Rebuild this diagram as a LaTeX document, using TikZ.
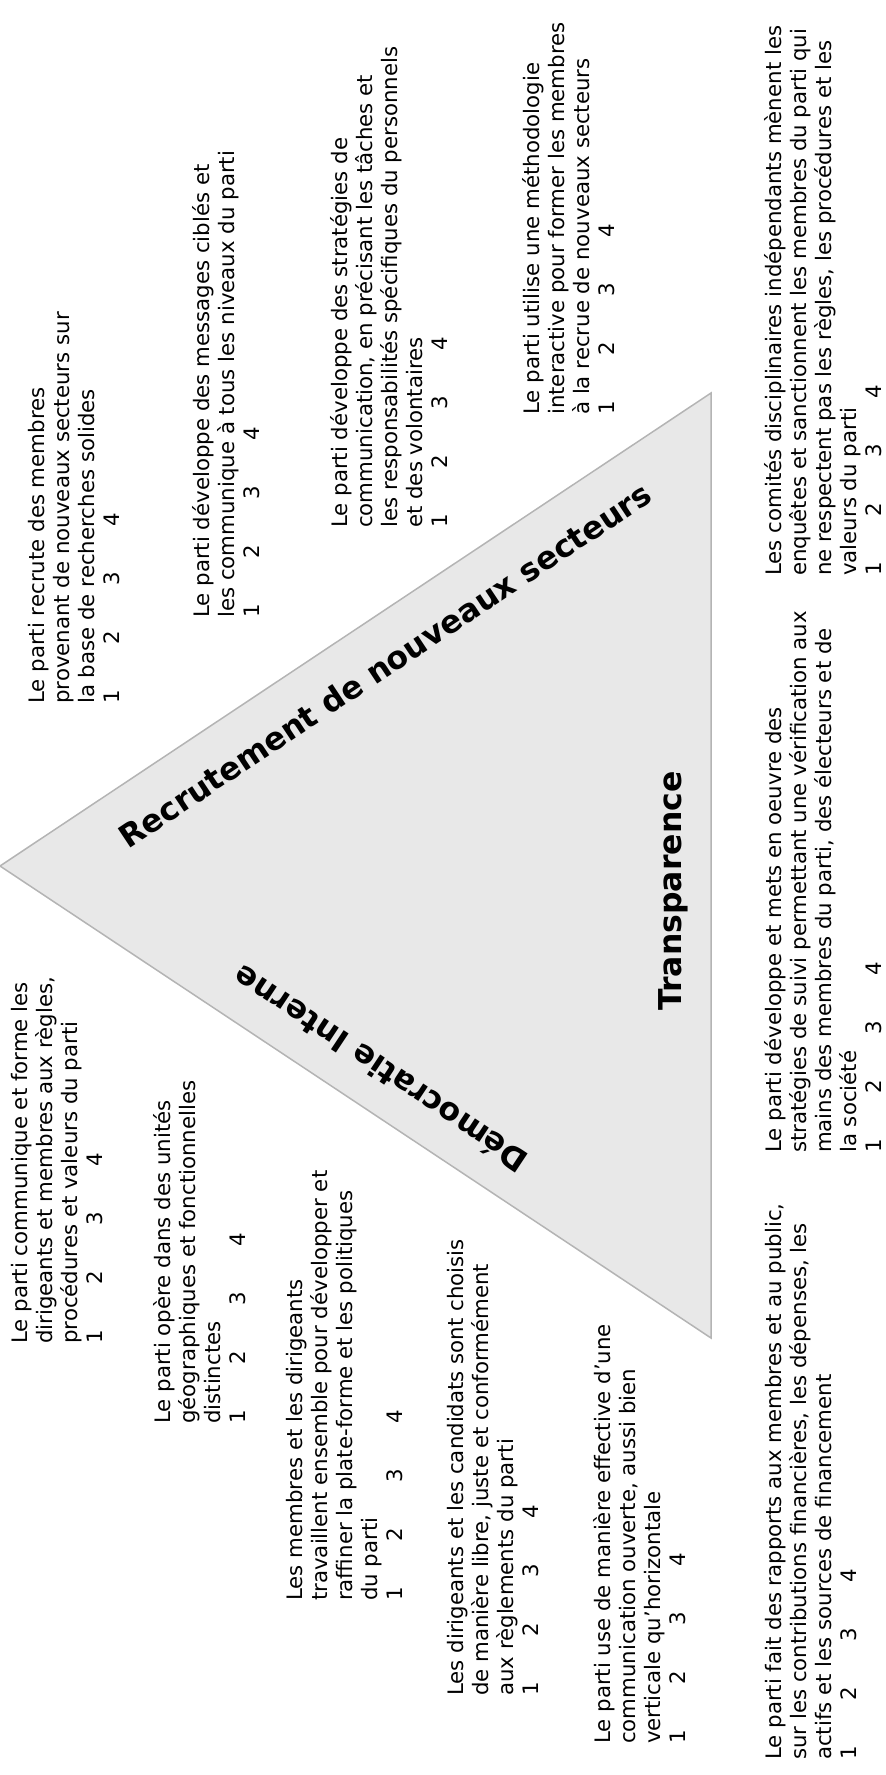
\documentclass[tikz,border=0pt]{standalone}
\usepackage{fontspec}
\setmainfont{DejaVu Sans}
\definecolor{trifill}{HTML}{E8E8E8}
\definecolor{triedge}{HTML}{B4B4B4}
\newcommand{\nums}{\makebox[59pt][l]{1}\makebox[59pt][l]{2}\makebox[59pt][l]{3}4}
\newcommand{\blk}[1]{\begin{tabular}[t]{@{}l@{}}#1\end{tabular}}
\begin{document}
\begin{tikzpicture}[x=1pt,y=-1pt,
  item/.style={rotate=90, anchor=base west, inner sep=0pt, font=\fontsize{21.3}{25}\selectfont},
  lab/.style={inner sep=0pt, font=\fontsize{31.5}{37}\selectfont\bfseries}]
\useasboundingbox (0,0) rectangle (886,1775);
\coordinate (tl) at (0,866);
\coordinate (tt) at (711,393);
\coordinate (tb) at (711,1338);
\draw[fill=trifill, draw=triedge, line width=1.5pt, line join=miter] (tl) -- (tt) -- (tb) -- cycle;

\node[lab, rotate=33.6] (recr) at (385,665) {Recrutement de nouveaux secteurs};
\node[lab, rotate=146.4] (demo) at (380,1070) {Démocratie Interne};
\node[lab, rotate=90, anchor=base] (trans) at (681,891) {Transparence};

% Recrutement items
\node[item] (a) at (44.8,704) {\blk{Le parti recrute des membres\\provenant de nouveaux secteurs sur\\la base de recherches solides\\\nums}};
\node[item] (b) at (209.8,618) {\blk{Le parti développe des messages ciblés et\\les communique à tous les niveaux du parti\\\nums}};
\node[item] (c) at (347.2,528) {\blk{Le parti développe des stratégies de\\communication, en précisant les tâches et\\les responsabilités spécifiques du personnels\\et des volontaires\\\nums}};
\node[item] (d) at (539.5,415) {\blk{Le parti utilise une méthodologie\\interactive pour former les membres\\à la recrue de nouveaux secteurs\\\nums}};

% Transparence items
\node[item] (e) at (781.8,576) {\blk{Les comités disciplinaires indépendants mènent les\\enquêtes et sanctionnent les membres du parti qui\\ne respectent pas les règles, les procédures et les\\valeurs du parti\\\nums}};
\node[item] (f) at (781.8,1153) {\blk{Le parti développe et mets en oeuvre des\\stratégies de suivi permettant une vérification aux\\mains des membres du parti, des électeurs et de\\la société\\\nums}};
\node[item] (g) at (781.8,1760) {\blk{Le parti fait des rapports aux membres et au public,\\sur les contributions financières, les dépenses, les\\actifs et les sources de financement\\\nums}};

% Democratie items
\node[item] (h) at (610.2,1744) {\blk{Le parti use de manière effective d’une\\communication ouverte,  aussi bien\\verticale qu’horizontale\\\nums}};
\node[item] (i) at (463.5,1696) {\blk{Les dirigeants et les candidats sont choisis\\de manière libre, juste et conformément\\aux règlements du parti\\\nums}};
\node[item] (j) at (302.2,1601) {\blk{Les membres et les dirigeants\\travaillent ensemble pour développer et\\raffiner la plate-forme et les politiques\\du parti\\\nums}};
\node[item] (k) at (170.5,1424) {\blk{Le parti opère dans des unités\\géographiques et fonctionnelles\\distinctes\\\nums}};
\node[item] (l) at (27.2,1344) {\blk{Le parti communique et forme les\\dirigeants et membres aux règles,\\procédures et valeurs du parti\\\nums}};
\end{tikzpicture}
\end{document}
